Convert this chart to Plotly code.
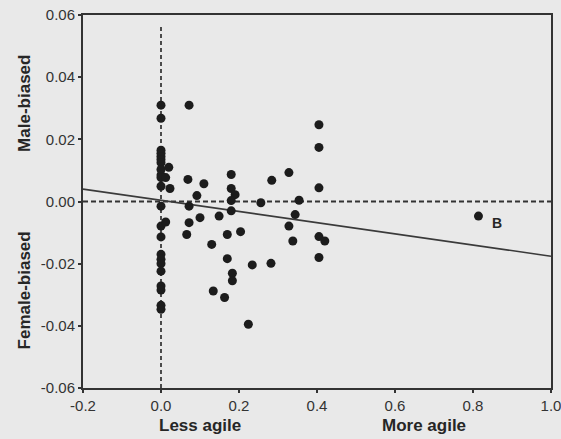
import plotly.graph_objects as go

# Data
agility = [
    0.0, 0.0, 0.0, 0.0, 0.0, 0.0, 0.0, 0.0, 0.0, 0.0, 0.0, 0.0,
    0.0, 0.0, 0.0, 0.0, 0.0, 0.0, 0.0, 0.0, 0.0, 0.0,
    0.012, 0.020, 0.023, 0.012,
    0.072, 0.069, 0.110, 0.092, 0.072, 0.072, 0.066, 0.100, 0.130, 0.134,
    0.149, 0.163, 0.170, 0.170, 0.180, 0.180, 0.190, 0.180, 0.180, 0.204,
    0.183, 0.183, 0.224, 0.234, 0.256, 0.282, 0.284, 0.328, 0.354, 0.344,
    0.328, 0.338, 0.405, 0.405, 0.405, 0.405, 0.420, 0.405, 0.814,
]
bias = [
    0.0310, 0.0268, 0.0165, 0.0155, 0.0145, 0.0135, 0.0125, 0.0103, 0.0085, 0.0077, 0.0049, -0.0015,
    -0.0079, -0.0114, -0.0170, -0.0186, -0.0200, -0.0224, -0.0272, -0.0285, -0.0334, -0.0347,
    0.0077, 0.0110, 0.0042, -0.0066,
    0.0310, 0.0071, 0.0057, 0.0019, -0.0015, -0.0068, -0.0106, -0.0052, -0.0138, -0.0288,
    -0.0047, -0.0309, -0.0106, -0.0184, 0.0087, 0.0042, 0.0022, 0.0003, -0.0030, -0.0097,
    -0.0231, -0.0255, -0.0395, -0.0204, -0.0004, -0.0199, 0.0068, 0.0093, 0.0004, -0.0042,
    -0.0079, -0.0127, 0.0247, 0.0174, 0.0044, -0.0113, -0.0127, -0.0180, -0.0047,
]
fit_intercept = 0.0004
fit_slope = -0.018
x_range = [-0.2, 1.0]
y_range = [-0.06, 0.06]
x_ticks = [-0.2, 0.0, 0.2, 0.4, 0.6, 0.8, 1.0]
x_ticklabels = ["-0.2", "0.0", "0.2", "0.4", "0.6", "0.8", "1.0"]
y_ticks = [-0.06, -0.04, -0.02, 0.0, 0.02, 0.04, 0.06]
y_ticklabels = ["-0.06", "-0.04", "-0.02", "0.00", "0.02", "0.04", "0.06"]
label_point = (0.814, -0.0047, "B")

BG = "#e9e9e9"
INK = "#262626"
FONT = "Liberation Sans, Arial, sans-serif"

fig = go.Figure()

# dashed reference lines
fig.add_trace(go.Scatter(x=[0, 0], y=[y_range[0], 0.057], mode="lines",
                         line=dict(color="#3a3a3a", width=1.8, dash="4px,3px"),
                         hoverinfo="skip", showlegend=False))
fig.add_trace(go.Scatter(x=x_range, y=[0, 0], mode="lines",
                         line=dict(color="#333", width=1.8, dash="5px,3px"),
                         hoverinfo="skip", showlegend=False))
# regression line
fit_x = x_range
fit_y = [fit_intercept + fit_slope * v for v in fit_x]
fig.add_trace(go.Scatter(x=fit_x, y=fit_y, mode="lines",
                         line=dict(color="#3a3a3a", width=1.6),
                         hoverinfo="skip", showlegend=False))
# points
fig.add_trace(go.Scatter(x=agility, y=bias, mode="markers",
                         marker=dict(size=9, color="#1c1c1c"),
                         showlegend=False))

fig.add_annotation(x=label_point[0], y=label_point[1], text="<b>" + label_point[2] + "</b>",
                   showarrow=False, xshift=19, yshift=-7,
                   font=dict(family=FONT, size=14, color=INK))

# axis titles as annotations
title_font = dict(family=FONT, size=17, color=INK)
fig.add_annotation(text="<b>Male-biased</b>", xref="paper", yref="y", x=-0.15, y=0.0315,
                   textangle=-90, showarrow=False, font=title_font)
fig.add_annotation(text="<b>Female-biased</b>", xref="paper", yref="y", x=-0.15, y=-0.0285,
                   textangle=-90, showarrow=False, font=title_font)
fig.add_annotation(text="<b>Less agile</b>", xref="x", yref="paper", x=0.1, y=-0.131,
                   yanchor="bottom", showarrow=False, font=title_font)
fig.add_annotation(text="<b>More agile</b>", xref="x", yref="paper", x=0.675, y=-0.131,
                   yanchor="bottom", showarrow=False, font=title_font)

axis_common = dict(showgrid=False, zeroline=False, showline=True, linecolor="#333",
                   linewidth=2, mirror=True, ticks="outside", ticklen=3, tickwidth=2,
                   tickcolor="#333", automargin=False, ticklabeloverflow="allow",
                   tickfont=dict(family=FONT, size=15, color="#333"))
fig.update_xaxes(range=x_range, tickvals=x_ticks, ticktext=x_ticklabels, **axis_common)
fig.update_yaxes(range=y_range, tickvals=y_ticks, ticktext=y_ticklabels, **axis_common)

fig.update_layout(width=561, height=439, margin=dict(l=83, r=10, t=15, b=51),
                  paper_bgcolor=BG, plot_bgcolor=BG, showlegend=False)

fig.write_html("out.html")
